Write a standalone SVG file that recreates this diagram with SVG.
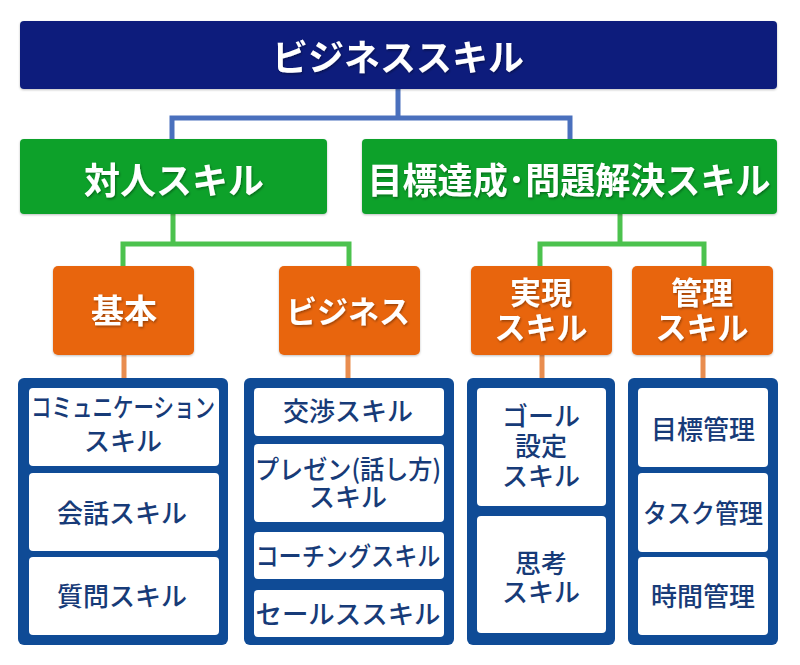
<svg xmlns="http://www.w3.org/2000/svg" width="800" height="665" viewBox="0 0 800 665">
<style>
text{font-family:"Noto Sans CJK JP","Noto Sans",sans-serif;font-weight:700;text-anchor:middle}
.hd{fill:#fff;filter:url(#ts)}
.in{fill:#173b78;font-size:26px;font-weight:500}
.cont{fill:#0f4b96}
.box{fill:#fff}
.org{fill:#e8650c}
.grn{fill:#10a12c}
.c-b{stroke:#4a70bd;stroke-width:5;fill:none}
.c-g{stroke:#4cc24e;stroke-width:5;fill:none}
.c-o{stroke:#e98d4f;stroke-width:5;fill:none}
</style>
<defs>
<filter id="ts" x="-10%" y="-10%" width="120%" height="130%"><feDropShadow dx="1" dy="1.5" stdDeviation="1" flood-color="#000" flood-opacity="0.35"/></filter>
<filter id="bs" x="-5%" y="-5%" width="110%" height="115%"><feDropShadow dx="0" dy="1" stdDeviation="1.2" flood-color="#000" flood-opacity="0.25"/></filter>
</defs>
<rect width="800" height="665" fill="#fff"/>
<g id="connectors">
<path class="c-b" d="M398 89V118M172 139V118H570V139"/>
<path class="c-g" d="M173 214V244M123 266V244H349V266"/>
<path class="c-g" d="M620 214V244M540 266V244H704V266"/>
<path class="c-o" d="M124 355V378M348 355V378M542 355V378M703 355V378"/>
</g>
<g id="root"><rect x="20" y="21" width="757" height="68" rx="4" fill="#0b1e7c" filter="url(#bs)"/><text class="hd" x="398" y="71" font-size="36">ビジネススキル</text></g>
<g id="taijin"><rect class="grn" x="20" y="139" width="307" height="75" rx="4" filter="url(#bs)"/><text class="hd" x="174" y="194" font-size="36">対人スキル</text></g>
<g id="mokuhyo"><rect class="grn" x="362" y="139" width="415" height="75" rx="4" filter="url(#bs)"/><text class="hd" x="569" y="194" font-size="36" textLength="403" lengthAdjust="spacingAndGlyphs">目標達成･問題解決スキル</text></g>
<g id="kihon"><rect class="org" x="53" y="266" width="141" height="89" rx="5" filter="url(#bs)"/><text class="hd" x="124" y="323" font-size="33">基本</text></g>
<g id="business"><rect class="org" x="279" y="266" width="141" height="89" rx="5" filter="url(#bs)"/><text class="hd" x="348" y="323" font-size="31">ビジネス</text></g>
<g id="jitsugen"><rect class="org" x="471" y="266" width="141" height="89" rx="5" filter="url(#bs)"/><text class="hd" x="541" y="304" font-size="31">実現</text><text class="hd" x="541" y="339" font-size="31">スキル</text></g>
<g id="kanri"><rect class="org" x="632" y="266" width="141" height="89" rx="5" filter="url(#bs)"/><text class="hd" x="702" y="304" font-size="31">管理</text><text class="hd" x="702" y="339" font-size="31">スキル</text></g>
<g id="list-kihon">
<rect class="cont" x="18" y="378" width="210" height="267" rx="6"/>
<rect class="box" x="29" y="388" width="190" height="78" rx="4"/>
<rect class="box" x="29" y="473" width="190" height="78" rx="4"/>
<rect class="box" x="29" y="557" width="190" height="78" rx="4"/>
<text class="in" x="123" y="417" font-size="24" textLength="184" lengthAdjust="spacingAndGlyphs">コミュニケーション</text>
<text class="in" x="123" y="451">スキル</text>
<text class="in" x="122" y="523">会話スキル</text>
<text class="in" x="122" y="606">質問スキル</text>
</g>
<g id="list-business">
<rect class="cont" x="244" y="378" width="210" height="267" rx="6"/>
<rect class="box" x="254" y="388" width="190" height="48" rx="4"/>
<rect class="box" x="254" y="444" width="190" height="78" rx="4"/>
<rect class="box" x="254" y="532" width="190" height="47" rx="4"/>
<rect class="box" x="254" y="590" width="190" height="47" rx="4"/>
<text class="in" x="348" y="421">交渉スキル</text>
<text class="in" x="348" y="479" font-size="23" textLength="186" lengthAdjust="spacingAndGlyphs">プレゼン(話し方)</text>
<text class="in" x="348" y="507">スキル</text>
<text class="in" x="348" y="566" textLength="185" lengthAdjust="spacingAndGlyphs">コーチングスキル</text>
<text class="in" x="348" y="624" font-size="27" textLength="185" lengthAdjust="spacingAndGlyphs">セールススキル</text>
</g>
<g id="list-jitsugen">
<rect class="cont" x="467" y="378" width="148" height="267" rx="6"/>
<rect class="box" x="477" y="388" width="129" height="118" rx="4"/>
<rect class="box" x="477" y="516" width="129" height="117" rx="4"/>
<text class="in" x="541" y="426">ゴール</text>
<text class="in" x="541" y="456">設定</text>
<text class="in" x="541" y="486">スキル</text>
<text class="in" x="541" y="573">思考</text>
<text class="in" x="541" y="602">スキル</text>
</g>
<g id="list-kanri">
<rect class="cont" x="628" y="378" width="150" height="267" rx="6"/>
<rect class="box" x="638" y="388" width="130" height="79" rx="4"/>
<rect class="box" x="638" y="473" width="130" height="79" rx="4"/>
<rect class="box" x="638" y="557" width="130" height="78" rx="4"/>
<text class="in" x="703" y="439" font-size="27">目標管理</text>
<text class="in" x="703" y="523" textLength="120" lengthAdjust="spacingAndGlyphs">タスク管理</text>
<text class="in" x="703" y="606" font-size="27">時間管理</text>
</g>
</svg>
